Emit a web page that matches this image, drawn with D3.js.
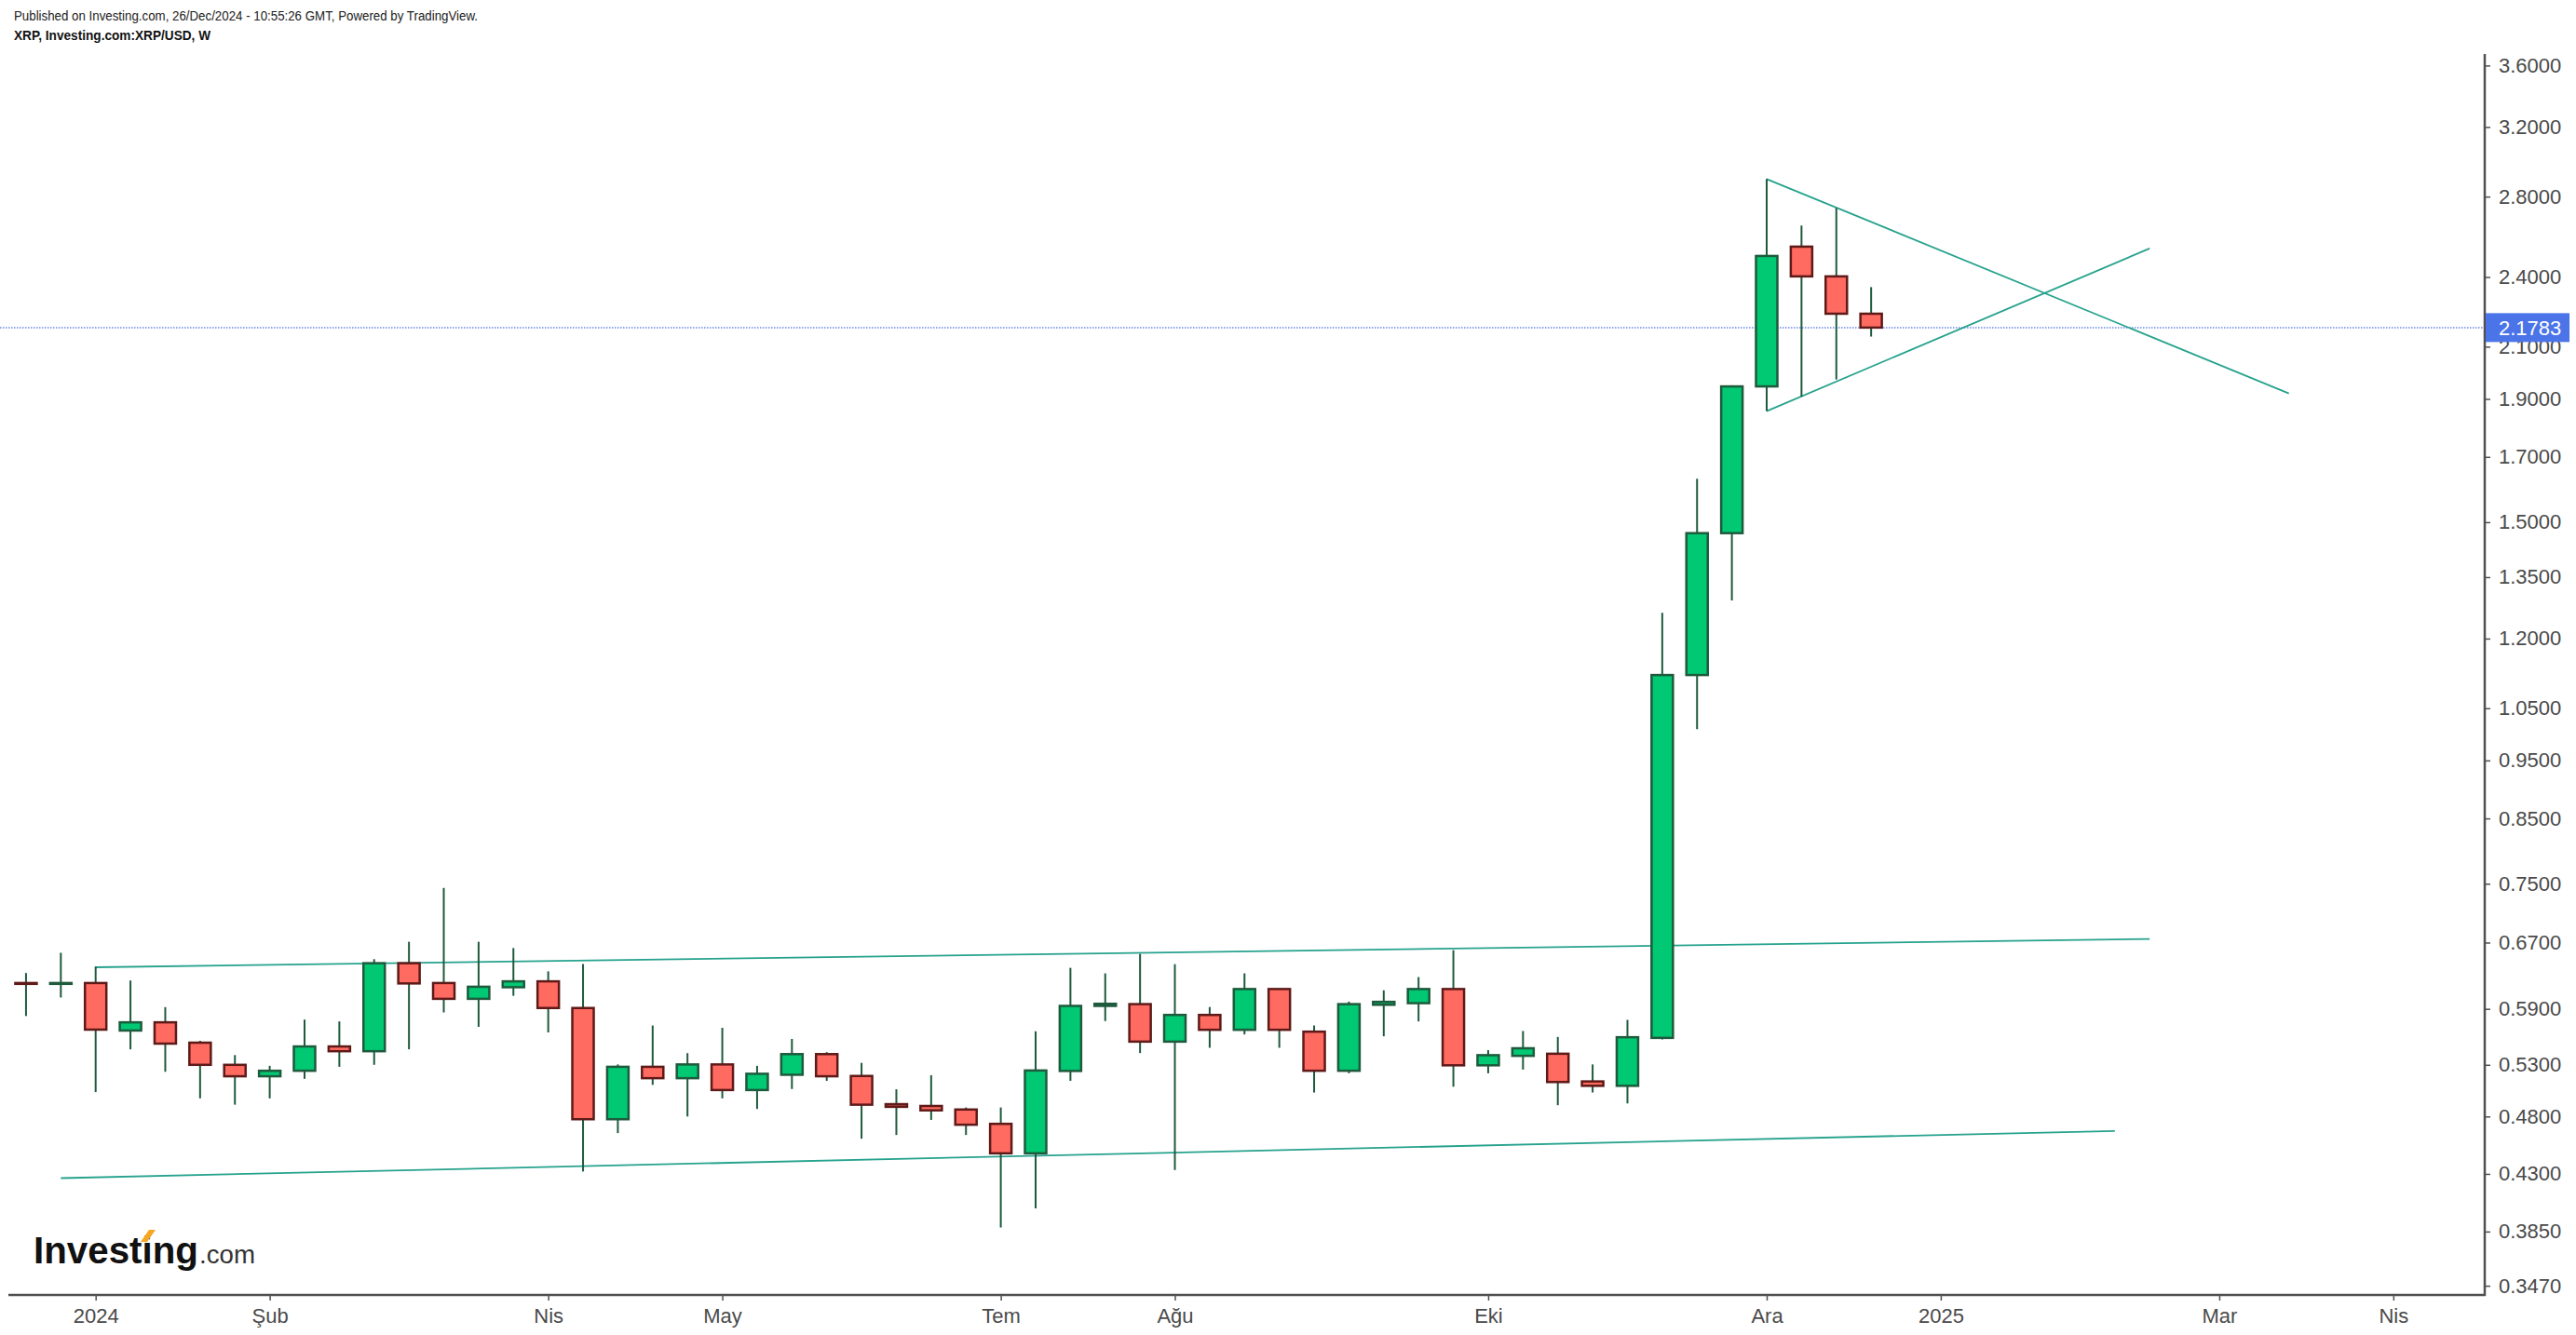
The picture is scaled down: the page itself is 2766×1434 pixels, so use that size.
<!DOCTYPE html>
<html>
<head>
<meta charset="utf-8">
<script src="https://cdn.jsdelivr.net/npm/d3@7"></script>
<style>
  html, body { margin: 0; padding: 0; background: #ffffff; }
  svg { display: block; }
  text { font-family: "Liberation Sans", Arial, sans-serif; }
</style>
</head>
<body>
<svg id="chart" width="2766" height="1434"></svg>
<script>
// ---- Data ----
const weeks = ["2023-12-18","2023-12-25","2024-01-01","2024-01-08","2024-01-15","2024-01-22","2024-01-29",
  "2024-02-05","2024-02-12","2024-02-19","2024-02-26","2024-03-04","2024-03-11","2024-03-18","2024-03-25",
  "2024-04-01","2024-04-08","2024-04-15","2024-04-22","2024-04-29","2024-05-06","2024-05-13","2024-05-20",
  "2024-05-27","2024-06-03","2024-06-10","2024-06-17","2024-06-24","2024-07-01","2024-07-08","2024-07-15",
  "2024-07-22","2024-07-29","2024-08-05","2024-08-12","2024-08-19","2024-08-26","2024-09-02","2024-09-09",
  "2024-09-16","2024-09-23","2024-09-30","2024-10-07","2024-10-14","2024-10-21","2024-10-28","2024-11-04",
  "2024-11-11","2024-11-18","2024-11-25","2024-12-02","2024-12-09","2024-12-16","2024-12-23"];

const open  = [0.620,0.619,0.620,0.566,0.575,0.553,0.530,0.5185,0.524,0.549,0.544,0.644,0.620,0.6015,0.615,
  0.622,0.591,0.4775,0.528,0.5166,0.5304,0.505,0.520,0.541,0.5188,0.4915,0.4898,0.4865,0.4733,0.4473,0.5238,
  0.5934,0.5954,0.5541,0.5832,0.5668,0.6129,0.5648,0.524,0.5947,0.5965,0.6129,0.5295,0.5392,0.5414,0.5134,
  0.5091,0.5581,1.119,1.4688,1.946,2.544,2.403,2.237];
const high  = [0.632,0.657,0.640,0.623,0.592,0.555,0.540,0.529,0.578,0.576,0.649,0.671,0.744,0.671,0.663,
  0.634,0.643,0.5304,0.5715,0.542,0.569,0.529,0.557,0.543,0.532,0.5057,0.5195,0.4884,0.4884,0.5652,0.6383,
  0.6316,0.6557,0.6428,0.5921,0.6316,0.6129,0.5715,0.5983,0.6114,0.6271,0.6603,0.5451,0.5655,0.5591,0.5304,
  0.5777,1.261,1.630,1.950,2.896,2.649,2.740,2.354];
const low   = [0.582,0.603,0.503,0.546,0.523,0.497,0.491,0.497,0.516,0.528,0.530,0.546,0.586,0.570,0.605,
  0.564,0.432,0.465,0.510,0.480,0.497,0.487,0.506,0.514,0.460,0.4633,0.4769,0.4633,0.388,0.4025,0.514,
  0.5764,0.5421,0.4332,0.5476,0.5618,0.5476,0.5026,0.5215,0.5598,0.576,0.5082,0.5215,0.5252,0.4905,0.5026,
  0.4922,0.5564,1.0087,1.291,1.856,1.908,1.972,2.141];
const close = [0.619,0.620,0.567,0.575,0.552,0.530,0.5185,0.524,0.549,0.544,0.644,0.6195,0.6015,0.6156,0.622,
  0.591,0.4775,0.528,0.5166,0.5304,0.505,0.521,0.541,0.5185,0.491,0.489,0.4857,0.4725,0.4473,0.5243,0.5934,
  0.5958,0.5541,0.5832,0.5668,0.6129,0.5668,0.524,0.5954,0.598,0.6129,0.5295,0.5399,0.5471,0.5128,0.5091,
  0.5588,1.119,1.4688,1.946,2.499,2.403,2.237,2.1783];

const lastPrice = 2.1783;

const yTicks = [3.6,3.2,2.8,2.4,2.1,1.9,1.7,1.5,1.35,1.2,1.05,0.95,0.85,0.75,0.67,0.59,0.53,0.48,0.43,0.385,0.347];
const xTickDates  = ["2024-01-01","2024-02-05","2024-04-01","2024-05-06","2024-07-01","2024-08-05","2024-10-07","2024-12-02","2025-01-06","2025-03-03","2025-04-07"];
const xTickLabels = ["2024","Şub","Nis","May","Tem","Ağu","Eki","Ara","2025","Mar","Nis"];

const channelUpper = [["2024-01-01",0.639],["2025-02-17",0.6746]];
const channelLower = [["2023-12-25",0.4265],["2025-02-10",0.4669]];
const triangleUpper = [["2024-12-02",2.896],["2025-03-17",1.920]];
const triangleLower = [["2024-12-02",1.856],["2025-02-17",2.535]];

const headerLine1 = "Published on Investing.com, 26/Dec/2024 - 10:55:26 GMT, Powered by TradingView.";
const headerLine2 = "XRP, Investing.com:XRP/USD, W";

// ---- Layout ----
const axisX = 2668, axisY = 1391, plotTop = 58;
const svg = d3.select("#chart");
const parse = d3.utcParse("%Y-%m-%d");

const x = d3.scaleUtc()
  .domain([parse("2024-01-01"), parse("2024-12-02")])
  .range([102.7, 1897]);
const y = d3.scaleLog()
  .domain([0.347, 3.6])
  .range([1381.1, 70.4]);

const defs = svg.append("defs");
defs.append("clipPath").attr("id","plotClip")
  .append("rect").attr("x",0).attr("y",plotTop).attr("width",axisX).attr("height",axisY-plotTop);
defs.append("clipPath").attr("id","yLabClip")
  .append("rect").attr("x",-5).attr("y",0).attr("width",200).attr("height",axisY-2);

// header
svg.append("text").attr("x",15).attr("y",22).attr("font-size",14).attr("fill","#222")
  .attr("textLength",498).attr("lengthAdjust","spacingAndGlyphs").text(headerLine1);
svg.append("text").attr("x",15).attr("y",43).attr("font-size",14).attr("font-weight","bold").attr("fill","#111")
  .attr("textLength",211).attr("lengthAdjust","spacingAndGlyphs").text(headerLine2);

const plot = svg.append("g").attr("clip-path","url(#plotClip)");

// last price dotted line
plot.append("line")
  .attr("x1",0).attr("x2",axisX).attr("y1",y(lastPrice)).attr("y2",y(lastPrice))
  .attr("stroke","#8ea5f0").attr("stroke-width",2).attr("stroke-dasharray","1.5,1.5");

// trend lines
const lineCol = "#26a28d";
[channelUpper, channelLower, triangleUpper, triangleLower].forEach(seg => {
  plot.append("line")
    .attr("x1", x(parse(seg[0][0]))).attr("y1", y(seg[0][1]))
    .attr("x2", x(parse(seg[1][0]))).attr("y2", y(seg[1][1]))
    .attr("stroke", lineCol).attr("stroke-width", 1.8);
});

// candles
const candles = weeks.map((d,i) => ({date: parse(d), o: open[i], h: high[i], l: low[i], c: close[i]}));
const bodyW = 23;
const wickCol = "#1e5a3c";
const gC = plot.append("g");
gC.selectAll("line.wick").data(candles).join("line")
  .attr("class","wick")
  .attr("x1", d => x(d.date)).attr("x2", d => x(d.date))
  .attr("y1", d => y(d.h)).attr("y2", d => y(d.l))
  .attr("stroke", wickCol).attr("stroke-width", 2);
gC.selectAll("rect.body").data(candles).join("rect")
  .attr("class","body")
  .attr("x", d => x(d.date) - bodyW/2)
  .attr("width", bodyW)
  .attr("y", d => Math.min(y(d.o), y(d.c)))
  .attr("height", d => Math.max(0.5, Math.abs(y(d.o) - y(d.c))))
  .attr("fill", d => d.c >= d.o ? "#00c873" : "#ff6a61")
  .attr("stroke", d => d.c >= d.o ? "#1e5a3c" : "#5e1a18")
  .attr("stroke-width", 2.5);

// axes
const axCol = "#505050";
const yAxis = d3.axisRight(y).tickValues(yTicks).tickFormat(d3.format(".4f")).tickSize(6).tickSizeOuter(0).tickPadding(9);
const gy = svg.append("g").attr("transform",`translate(${axisX},0)`).attr("clip-path","url(#yLabClip)").call(yAxis);
gy.select(".domain").remove();
gy.selectAll(".tick line").attr("stroke",axCol).attr("stroke-width",1.5);
gy.selectAll(".tick text").attr("font-size",22).attr("fill","#4a4a4a").attr("font-family","'Liberation Sans', Arial, sans-serif");

const xAxis = d3.axisBottom(x).tickValues(xTickDates.map(parse)).tickFormat((d,i) => xTickLabels[i]).tickSize(6).tickSizeOuter(0).tickPadding(8);
const gx = svg.append("g").attr("transform",`translate(0,${axisY})`).call(xAxis);
gx.select(".domain").remove();
gx.selectAll(".tick line").attr("stroke",axCol).attr("stroke-width",1.5);
gx.selectAll(".tick text").attr("font-size",22).attr("fill","#4a4a4a").attr("font-family","'Liberation Sans', Arial, sans-serif");

svg.append("line").attr("x1",9).attr("x2",axisX+1).attr("y1",axisY).attr("y2",axisY).attr("stroke",axCol).attr("stroke-width",2.5);
svg.append("line").attr("x1",axisX).attr("x2",axisX).attr("y1",plotTop).attr("y2",axisY+1).attr("stroke",axCol).attr("stroke-width",2.5);

// last price label
const ly = y(lastPrice);
svg.append("rect").attr("x",axisX+1).attr("y",ly-15.5).attr("width",90).attr("height",31).attr("fill","#4a74e8");
svg.append("text").attr("x",axisX+15).attr("y",ly).attr("dy","0.35em").attr("font-size",22).attr("fill","#ffffff")
  .text(d3.format(".4f")(lastPrice));

// logo
const logo = svg.append("g");
logo.append("text").attr("x",36).attr("y",1357).attr("font-size",40).attr("font-weight","bold").attr("fill","#111")
  .attr("textLength",177).attr("lengthAdjust","spacingAndGlyphs").text("Investing");
logo.append("text").attr("x",214).attr("y",1357).attr("font-size",27).attr("fill","#333")
  .attr("textLength",60).attr("lengthAdjust","spacingAndGlyphs").text(".com");
logo.append("path").attr("d","M151,1334 L158,1334 L167,1321 L160,1321 Z").attr("fill","#f5a623");
</script>
</body>
</html>
